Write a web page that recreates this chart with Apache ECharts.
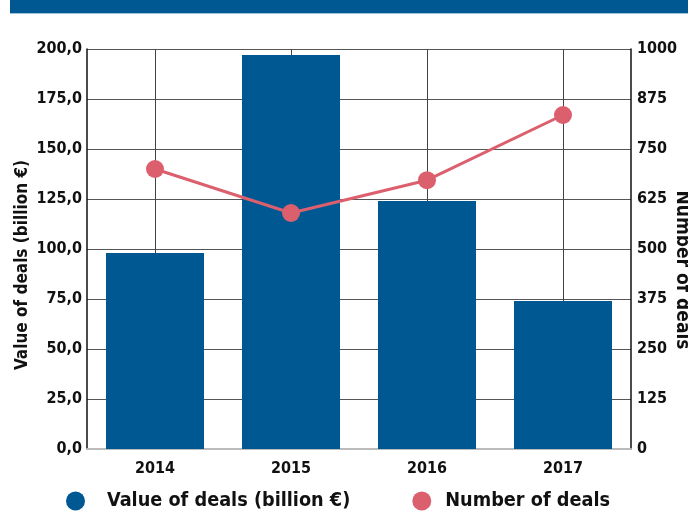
<!DOCTYPE html>
<html><head><meta charset="utf-8">
<script src="https://cdn.jsdelivr.net/npm/echarts@6/dist/echarts.min.js"></script>
<style>html,body{margin:0;padding:0;background:#fff}#c{width:688px;height:513px}</style>
</head><body><div id="c"></div>
<script>
const categories = ['2014', '2015', '2016', '2017'];
const valueOfDeals = [98, 197, 124, 74];
const numberOfDeals = [700, 590, 672, 835];
const leftTicks = [0, 25, 50, 75, 100, 125, 150, 175, 200];
const rightTicks = [0, 125, 250, 375, 500, 625, 750, 875, 1000];

const FONT = '"DejaVu Sans Condensed", sans-serif';
const chart = echarts.init(document.getElementById('c'));
chart.setOption({
  animation: false,
  textStyle: { fontFamily: FONT },
  graphic: [
    { type: 'rect', shape: { x: 10, y: 0, width: 678, height: 13 }, style: { fill: '#005893' } },
    { type: 'rect', shape: { x: 10, y: 13, width: 678, height: 1 }, style: { fill: '#9cc3dc' } }
  ],
  grid: { left: 87, right: 57, top: 49, bottom: 64, containLabel: false, outerBoundsMode: 'none' },
  legend: {
    bottom: -3, left: 61,
    icon: 'circle', itemWidth: 19, itemHeight: 19, itemGap: 62,
    textStyle: { fontFamily: FONT, fontSize: 19.7, fontWeight: 'bold', color: '#111', padding: [0, 0, 0, 17] },
    data: [
      { name: 'Value of deals (billion €)' },
      { name: 'Number of deals', textStyle: { padding: [0, 0, 0, 9] } }
    ]
  },
  xAxis: {
    type: 'category', data: categories,
    axisLine: { show: true, lineStyle: { color: '#bbb', width: 2 } },
    axisTick: { show: false },
    axisLabel: { fontFamily: FONT, fontSize: 16, fontWeight: 'bold', color: '#111', margin: 12 },
    splitLine: { show: true, alignWithLabel: true, lineStyle: { color: '#444', width: 1 } }
  },
  yAxis: [
    {
      type: 'value', min: 0, max: 200, interval: 25,
      name: 'Value of deals (billion €)', nameLocation: 'middle', nameGap: 56, nameMoveOverlap: false,
      nameTextStyle: { fontFamily: FONT, fontSize: 17, fontWeight: 'bold', color: '#111', padding: [0, 32, 0, 0] },
      axisLine: { show: true, lineStyle: { color: '#111', width: 1.5 } },
      axisTick: { show: false },
      axisLabel: { fontFamily: FONT, fontSize: 16, fontWeight: 'bold', color: '#111', margin: 5,
        formatter: v => v.toFixed(1).replace('.', ',') },
      splitLine: { show: true, lineStyle: { color: '#555', width: 1.2 } }
    },
    {
      type: 'value', min: 0, max: 1000, interval: 125, position: 'right',
      name: 'Number of deals', nameLocation: 'middle', nameGap: 41, nameRotate: -90, nameMoveOverlap: false,
      nameTextStyle: { fontFamily: FONT, fontSize: 19, fontWeight: 'bold', color: '#111', padding: [0, 0, 0, 42] },
      axisLine: { show: true, lineStyle: { color: '#111', width: 1.5 } },
      axisTick: { show: false },
      axisLabel: { fontFamily: FONT, fontSize: 16, fontWeight: 'bold', color: '#111', margin: 6,
        formatter: v => String(v) },
      splitLine: { show: false }
    }
  ],
  series: [
    {
      name: 'Value of deals (billion €)', type: 'bar', yAxisIndex: 0,
      data: valueOfDeals, barWidth: 98, itemStyle: { color: '#005893' }
    },
    {
      name: 'Number of deals', type: 'line', yAxisIndex: 1,
      data: numberOfDeals, symbol: 'circle', symbolSize: 18,
      lineStyle: { color: '#dc5f6e', width: 3 }, itemStyle: { color: '#dc5f6e' }
    }
  ]
});
</script></body></html>
